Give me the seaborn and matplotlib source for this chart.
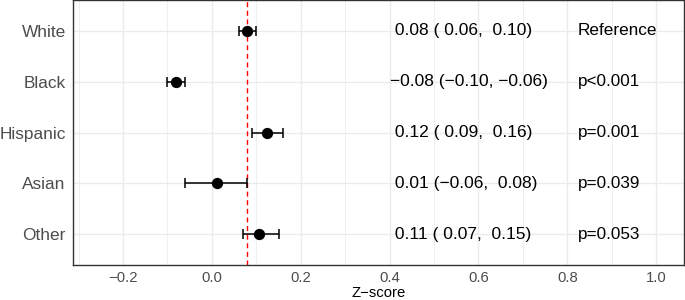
import numpy as np
import pandas as pd
import matplotlib
matplotlib.use("Agg")
import matplotlib.pyplot as plt
import seaborn as sns

# dados
groups = ["White", "Black", "Hispanic", "Asian", "Other"]
estimate = [0.08, -0.08, 0.124, 0.012, 0.107]
lower = [0.06, -0.10, 0.09, -0.06, 0.07]
upper = [0.10, -0.06, 0.16, 0.08, 0.15]
p_labels = ["Reference", "p<0.001", "p=0.001", "p=0.039", "p=0.053"]
ref_line = 0.08

x_ticks = [-0.2, 0.0, 0.2, 0.4, 0.6, 0.8, 1.0]
x_minor = [-0.3, -0.1, 0.1, 0.3, 0.5, 0.7, 0.9]

df = pd.DataFrame({"group": groups, "estimate": estimate,
                   "lower": lower, "upper": upper})
df["ypos"] = np.arange(len(df))


def fmt(v):
    return f"{v:5.2f}".replace("-", "\u2212")


df["ci_text"] = [f"{fmt(e)} ({fmt(l)}, {fmt(u)})"
                 for e, l, u in zip(df.estimate, df.lower, df.upper)]

# estilo
sns.set_style("white")
plt.rcParams["font.family"] = ["Liberation Sans", "DejaVu Sans"]

fig = plt.figure(figsize=(6.85, 3.0), dpi=100)
ax = fig.add_axes([73 / 685, 35 / 300, 611 / 685, 265 / 300])

# grade
ax.set_xticks(x_ticks)
ax.set_xticks(x_minor, minor=True)
ax.set_yticks(df["ypos"], groups)
ax.grid(which="major", color="#EBEBEB", lw=1.0, zorder=0)
ax.grid(which="minor", axis="x", color="#EBEBEB", lw=0.55, zorder=0)
ax.set_axisbelow(True)

# linha de referência
ax.axvline(ref_line, color="#FF0000", lw=1.0, ls=(0, (3.6, 2.6)), zorder=2)

# intervalos e pontos
ax.errorbar(df["estimate"], df["ypos"],
            xerr=[df["estimate"] - df["lower"], df["upper"] - df["estimate"]],
            fmt="none", ecolor="black", elinewidth=1.1, capsize=3.6,
            capthick=1.1, zorder=3)
sns.scatterplot(data=df, x="estimate", y="ypos", color="black", s=66,
                linewidth=0, zorder=4, ax=ax, legend=False)

# textos
for _, r in df.iterrows():
    ax.text(0.4, r["ypos"], r["ci_text"], ha="left", va="center",
            fontsize=12.5, color="black")
for y, p in zip(df["ypos"], p_labels):
    ax.text(0.823, y, p, ha="left", va="center", fontsize=12.3, color="black")

ax.set_xlim(-0.3125, 1.0625)
ax.set_ylim(len(groups) - 0.4, -0.6)

ax.set_xlabel("Z\u2212score", fontsize=10.7, color="black", labelpad=0.5)
ax.set_ylabel("")
ax.tick_params(axis="x", which="major", length=2.75, width=0.8,
               color="#333333", labelcolor="#4D4D4D", labelsize=10.7, pad=1.8)
ax.tick_params(axis="x", which="minor", length=0)
ax.tick_params(axis="y", length=2.75, width=0.8, color="#333333",
               labelcolor="#4D4D4D", labelsize=12.4, pad=2.5)

for s in ax.spines.values():
    s.set_color("#333333")
    s.set_linewidth(1.0)

fig.savefig("out.png", dpi=100)
